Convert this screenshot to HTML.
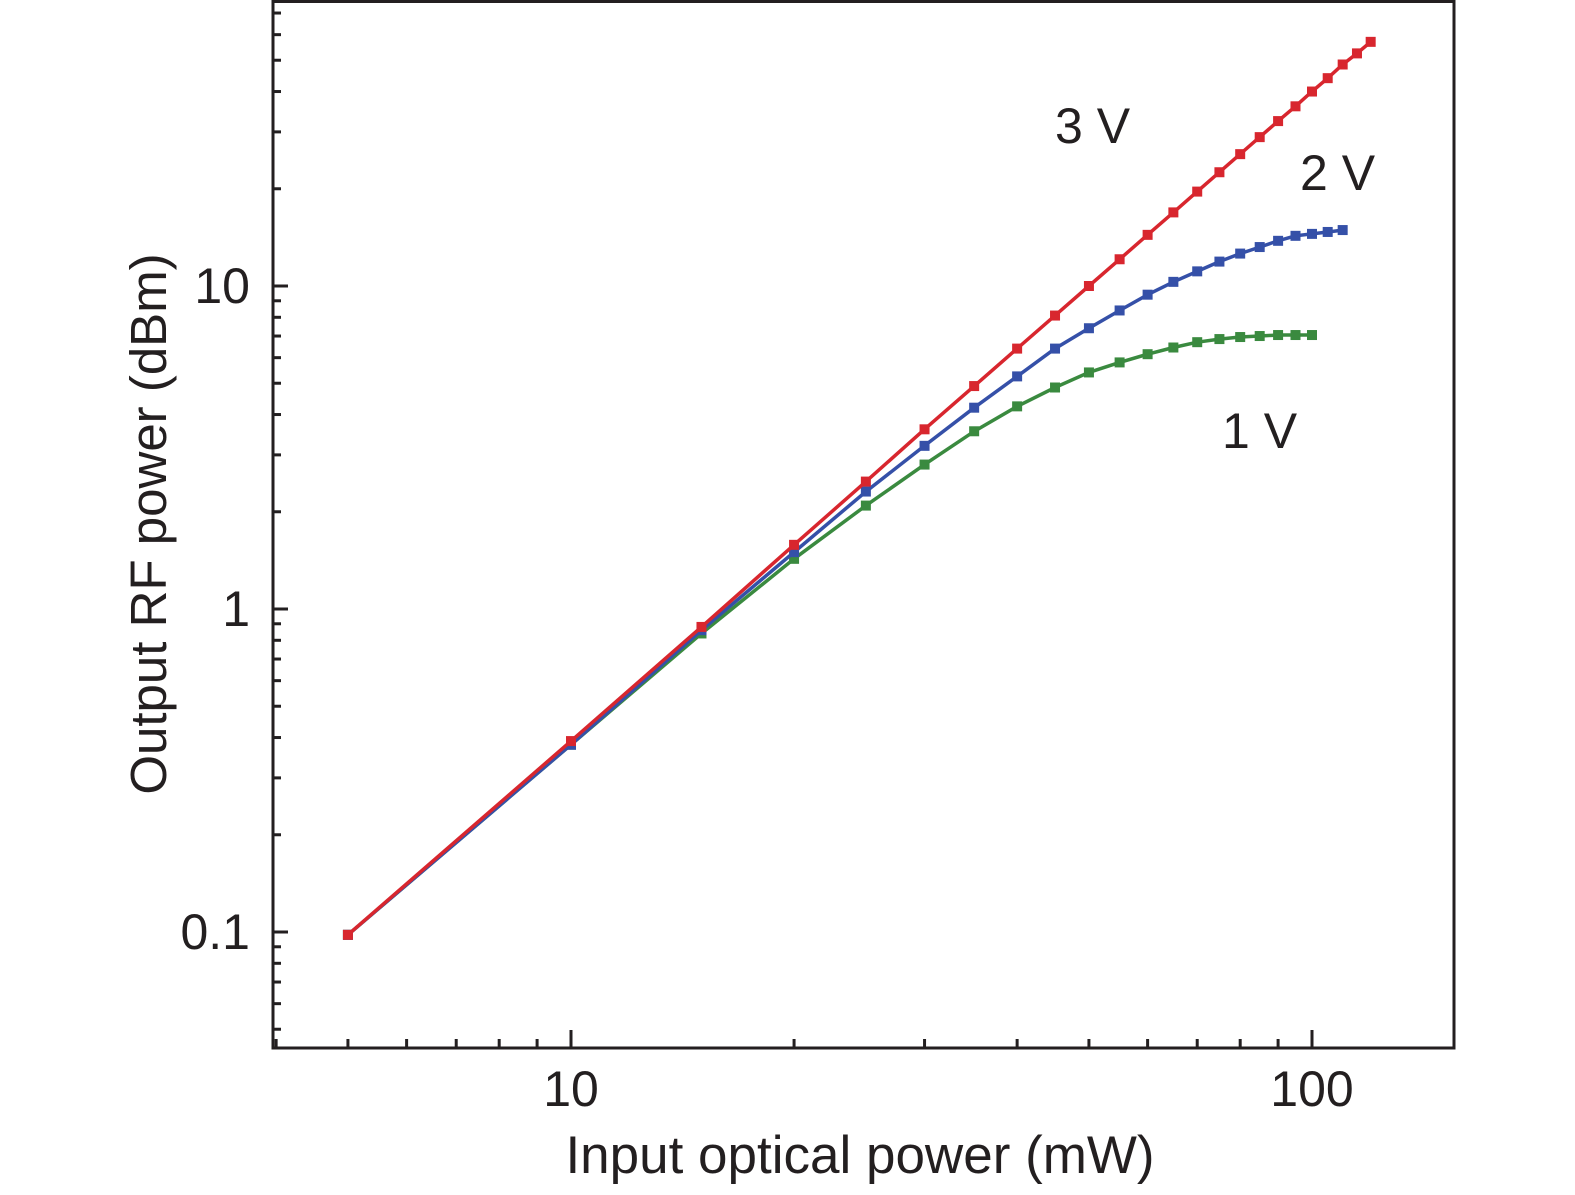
<!DOCTYPE html>
<html><head><meta charset="utf-8"><style>
html,body{margin:0;padding:0;background:#fff}
svg text{font-family:"Liberation Sans","DejaVu Sans",sans-serif;fill:#231f20}
</style></head><body>
<svg id="chart" width="1575" height="1190" viewBox="0 0 1575 1190" xmlns="http://www.w3.org/2000/svg">
<g id="ticks"></g>
<g id="series"></g>
<rect x="273" y="1.5" width="1181" height="1046.5" fill="none" stroke="#231f20" stroke-width="3"/>
<text x="860" y="1173" font-size="53" text-anchor="middle">Input optical power (mW)</text>
<text transform="translate(166,524) rotate(-90)" font-size="51" text-anchor="middle">Output RF power (dBm)</text>
<text x="1055" y="143" font-size="50">3 V</text>
<text x="1300" y="190" font-size="50">2 V</text>
<text x="1222" y="448" font-size="50">1 V</text>
</svg>
<script>
const xs = [5,10,15,20,25,30,35,40,45,50,55,60,65,70,75,80,85,90,95,100,105,110,115,120];
const red = [0.098,0.39,0.88,1.58,2.48,3.6,4.9,6.4,8.1,10,12.1,14.4,16.9,19.6,22.5,25.6,28.9,32.4,36,40,44,48.5,52.5,57];
const blue = [0.098,0.38,0.86,1.5,2.31,3.2,4.2,5.25,6.4,7.4,8.4,9.4,10.3,11.1,11.9,12.6,13.2,13.8,14.3,14.5,14.7,14.9];
const green = [0.098,0.38,0.84,1.43,2.09,2.8,3.55,4.24,4.85,5.4,5.8,6.15,6.45,6.7,6.85,6.95,7.0,7.05,7.05,7.05];
const xTickLabels = ["10","100"];
const xTickValues = [10,100];
const yTickLabels = ["0.1","1","10"];
const yTickValues = [0.1,1,10];

const NS="http://www.w3.org/2000/svg";
function X(v){return 571+741*(Math.log10(v)-1);}
function Y(v){return 609-323*Math.log10(v);}
function mk(tag,attrs,parent){const e=document.createElementNS(NS,tag);for(const k in attrs)e.setAttribute(k,attrs[k]);parent.appendChild(e);return e;}
const tk=document.getElementById('ticks');
for(let d=1;d<=100;d*=10){for(let m=1;m<=9;m++){const v=d*m;const x=X(v);if(x<275||x>1452)continue;
 const major=(m===1);
 const t=mk('line',{x1:x,x2:x,y1:1048,y2:major?1030:1039,stroke:'#231f20','stroke-width':3},tk);
 
 }}
xTickValues.forEach((v,i)=>{const t=mk('text',{x:X(v),y:1106,'font-size':50,'text-anchor':'middle'},tk);t.textContent=xTickLabels[i];
 
 });
for(let d=0.01;d<=100;d*=10){for(let m=1;m<=9;m++){const v=d*m;const y=Y(v);if(y<4||y>1046)continue;
 const major=(m===1);
 const t=mk('line',{x1:273,x2:major?288:281,y1:y,y2:y,stroke:'#231f20','stroke-width':3},tk);
 
 }}
yTickValues.forEach((v,i)=>{const t=mk('text',{x:250,y:Y(v)+17,'font-size':50,'text-anchor':'end'},tk);t.textContent=yTickLabels[i];
 
 });
const sg=document.getElementById('series');
function draw(vals,color,name){
 const g=mk('g',{},sg);
 
 
 const pts=vals.map((v,i)=>X(xs[i]).toFixed(1)+','+Y(v).toFixed(1)).join(' ');
 const pl=mk('polyline',{points:pts,fill:'none',stroke:color,'stroke-width':3.5},g);
 
 
 vals.forEach((v,i)=>{const r=mk('rect',{x:X(xs[i])-5,y:Y(v)-5,width:10,height:10,fill:color},g);
  
  });
}
draw(green,'#3a8a3f','series-1v');
draw(blue,'#3550a8','series-2v');
draw(red,'#d8262e','series-3v');
</script>
</body></html>
